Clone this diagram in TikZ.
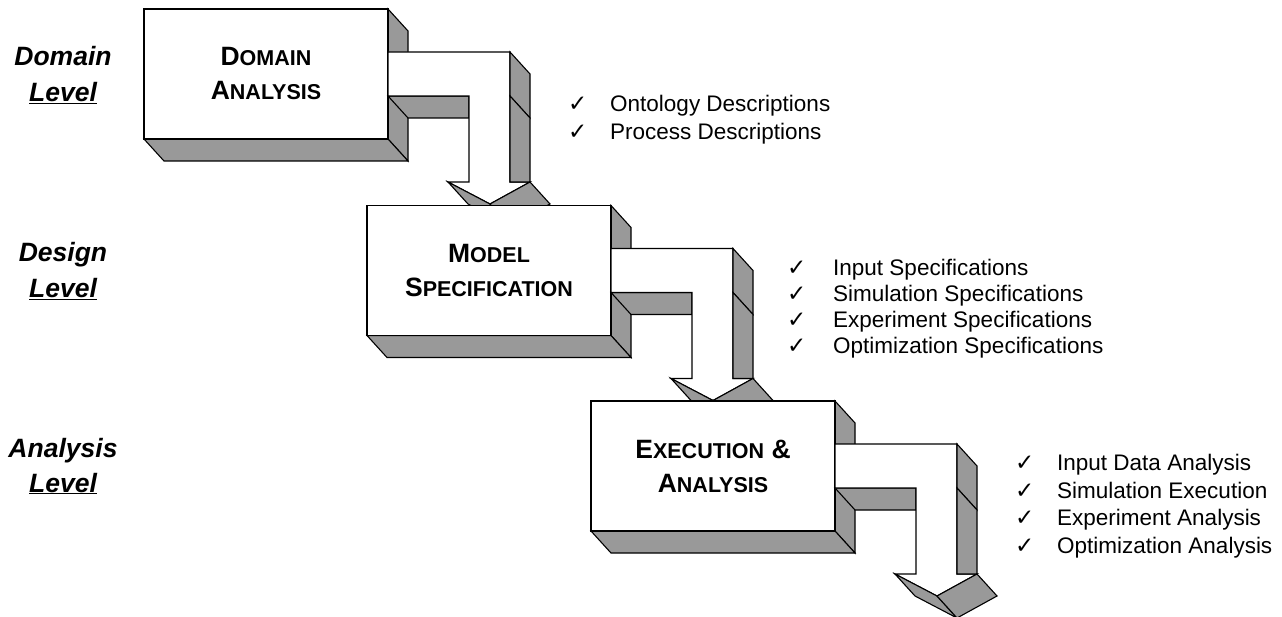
\documentclass[tikz,border=0pt]{standalone}
\usepackage{fontspec}
\setmainfont{Liberation Sans}
\newfontfamily\symfont{DejaVu Sans}
\definecolor{facegray}{RGB}{153,153,153}
\newcommand\bigcaps[1]{{\fontsize{26.5}{30}\selectfont #1}}
\newcommand\smallcaps[1]{{\fontsize{21.5}{25}\selectfont #1}}
\newcommand\fakesc[2]{\bigcaps{#1}\smallcaps{#2}}
\tikzset{
  face/.style={draw=black, line width=1.1pt, line join=miter, fill=facegray},
  frontface/.style={draw=black, line width=1.1pt, line join=miter, fill=white},
  boxtext/.style={anchor=base, inner sep=0pt, font=\bfseries},
  leveltext/.style={anchor=base, inner sep=0pt, font=\bfseries\itshape\fontsize{26.5}{30}\selectfont},
  itemtext/.style={anchor=base west, inner sep=0pt, font=\fontsize{22.5}{27}\selectfont},
  checktext/.style={anchor=base west, inner sep=0pt, font=\symfont\fontsize{23}{26}\selectfont},
}
% one stage: 3D box with bent arrow; #1 = x, #2 = y of box top-left, #3 #4 = text lines
\newcommand\stage[5]{%
\begin{scope}[shift={(#1,#2)}]
  % box faces
  \path[face] (244,0) -- (264,22) -- (264,152) -- (244,130) -- cycle;
  \path[face] (0,130) -- (244,130) -- (264,152) -- (20,152) -- cycle;
  \path[frontface] (0,0) rectangle (244,130);
  % arrow band (underside of horizontal arm)
  \path[face] (244,87) -- (325,87) -- (325,109) -- (264,109) -- cycle;
  % arrow front
  \path[frontface] (244,87) -- (244,43) -- (366,43) -- (366,173) -- (386,173)
     -- (346,195) -- (304,173) -- (325,173) -- (325,87) -- cycle;
  % outer side strips
  \path[face] (366,43) -- (386,65) -- (386,109) -- (366,87) -- cycle;
  \path[face] (366,87) -- (386,109) -- (386,173) -- (366,173) -- cycle;
  % head underside
  \path[face] (304,173) -- (346,195) -- (366,217) -- (324,195) -- cycle;
  \path[face] (346,195) -- (386,173) -- (406,195) -- (366,217) -- cycle;
  \node[boxtext] (#5a) at (122,57) {#3};
  \node[boxtext] (#5b) at (122,91) {#4};
\end{scope}}
\begin{document}
\begin{tikzpicture}[x=1pt,y=-1pt]
\useasboundingbox (0,0) rectangle (1282,617);
\stage{144}{9}{\fakesc{D}{OMAIN}}{\fakesc{A}{NALYSIS}}{domain}
\stage{367}{205.5}{\fakesc{M}{ODEL}}{\fakesc{S}{PECIFICATION}}{model}
\stage{591}{401}{\fakesc{E}{XECUTION}\bigcaps{ \&}}{\fakesc{A}{NALYSIS}}{exec}

% level labels
\node[leveltext] (lv1a) at (63,66) {Domain};
\node[leveltext] (lv1b) at (63,102) {\underline{Level}};
\node[leveltext] (lv2a) at (63,262) {Design};
\node[leveltext] (lv2b) at (63,298) {\underline{Level}};
\node[leveltext] (lv3a) at (63,457) {Analysis};
\node[leveltext] (lv3b) at (63,492) {\underline{Level}};

% list 1
\node[checktext] (c11) at (568,112) {✓};
\node[itemtext] (t11) at (610,112) {Ontology Descriptions};
\node[checktext] (c12) at (568,140) {✓};
\node[itemtext] (t12) at (610,140) {Process Descriptions};

% list 2
\node[checktext] (c21) at (787,276) {✓};
\node[itemtext] (t21) at (833,276) {Input Specifications};
\node[checktext] (c22) at (787,302) {✓};
\node[itemtext] (t22) at (833,302) {Simulation Specifications};
\node[checktext] (c23) at (787,328) {✓};
\node[itemtext] (t23) at (833,328) {Experiment Specifications};
\node[checktext] (c24) at (787,354) {✓};
\node[itemtext] (t24) at (833,354) {Optimization Specifications};

% list 3
\node[checktext] (c31) at (1015,470) {✓};
\node[itemtext] (t31) at (1057,470) {Input Data Analysis};
\node[checktext] (c32) at (1015,498) {✓};
\node[itemtext] (t32) at (1057,498) {Simulation Execution};
\node[checktext] (c33) at (1015,525) {✓};
\node[itemtext] (t33) at (1057,525) {Experiment Analysis};
\node[checktext] (c34) at (1015,553) {✓};
\node[itemtext] (t34) at (1057,553) {Optimization Analysis};
\end{tikzpicture}
\end{document}
